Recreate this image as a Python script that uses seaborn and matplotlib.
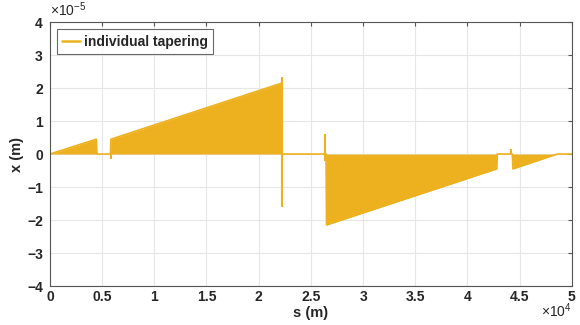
import numpy as np
import pandas as pd
import matplotlib
matplotlib.use("Agg")
import matplotlib.pyplot as plt
import seaborn as sns
from matplotlib.ticker import FuncFormatter

# envelope of the orbit (dense oscillation drawn as filled band), x in 1e-5 m
s_env = [0, 4450, 4500, 5800, 5850, 22200, 22250, 26450, 26500,
         42800, 42850, 44300, 44350, 48600, 50000]
x_env = [0, 0.45, 0, 0, 0.45, 2.15, 0, 0, -2.15,
         -0.45, 0, 0, -0.45, 0, 0]

# isolated spikes (s position, low, high), 1e-5 m
spike_s = [5850, 22200, 26400, 44200]
spike_lo = [-0.15, -1.6, -0.2, 0.0]
spike_hi = [0.0, 2.35, 0.6, 0.15]

color = "#EDB120"

df = pd.DataFrame({"s": s_env, "x": np.array(x_env) * 1e-5})

sns.set_style("white")
plt.rcParams["font.family"] = ["Liberation Sans", "DejaVu Sans"]
plt.rcParams["mathtext.fontset"] = "custom"
plt.rcParams["mathtext.rm"] = "Liberation Sans"

fig = plt.figure(figsize=(5.8, 3.25), dpi=100)
ax = fig.add_axes([0.086, 0.12, 0.9, 0.812])

ax.fill_between(df["s"], 0, df["x"], color=color, linewidth=0)
sns.lineplot(data=df, x="s", y="x", color=color, lw=1.2, ax=ax,
             label="individual tapering", estimator=None, sort=False)
ax.vlines(spike_s, np.array(spike_lo) * 1e-5, np.array(spike_hi) * 1e-5,
          color=color, lw=1.5)

ax.set_xlim(0, 50000)
ax.set_ylim(-4e-5, 4e-5)
ax.set_xticks(np.arange(0, 50001, 5000))
ax.set_yticks(np.arange(-4e-5, 4.01e-5, 1e-5))
ax.xaxis.set_major_formatter(FuncFormatter(lambda v, p: f"{v / 1e4:g}"))
ax.yaxis.set_major_formatter(FuncFormatter(lambda v, p: f"{round(v / 1e-5):d}".replace("-", "\u2212")))

ax.grid(True, color="#e6e6e6", lw=0.8)
ax.set_axisbelow(True)
for sp in ax.spines.values():
    sp.set_color("#555555")
    sp.set_linewidth(0.8)
ax.tick_params(direction="in", top=True, right=True, length=3,
               color="#555555", labelsize=10, pad=3)
ax.tick_params(axis="y", pad=5)
for lab in ax.get_xticklabels() + ax.get_yticklabels():
    lab.set_fontweight("bold")
    lab.set_color("#262626")

# exponent labels like MATLAB
ax.text(0.0, 1.012, r"$\times10^{-5}$", transform=ax.transAxes,
        ha="left", va="bottom", fontsize=10, color="#262626")
fig.text(0.985, 0.015, r"$\times10^{4}$", ha="right", va="bottom",
         fontsize=10, color="#262626")

ax.set_xlabel("s (m)", fontsize=10.5, fontweight="bold", labelpad=1)
ax.set_ylabel("x (m)", fontsize=10.5, fontweight="bold", labelpad=2)

leg = ax.legend(loc="upper left", fontsize=10, frameon=True, fancybox=False,
                handlelength=1.3, handletextpad=0.25, borderpad=0.4,
                borderaxespad=0.5)
leg.get_frame().set_edgecolor("#444444")
leg.get_frame().set_linewidth(0.8)
for line in leg.get_lines():
    line.set_linewidth(1.8)
for t in leg.get_texts():
    t.set_fontweight("bold")

fig.savefig("out.png", dpi=100)
